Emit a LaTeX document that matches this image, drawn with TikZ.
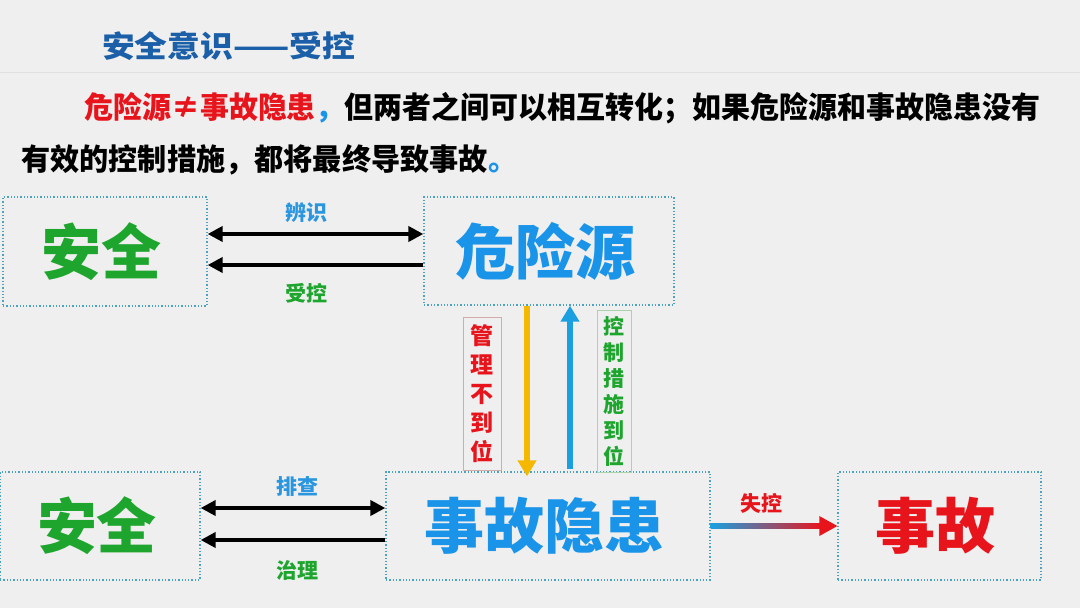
\documentclass[tikz,border=0pt]{standalone}
\usepackage{fontspec}
\usepackage{graphicx}
\newfontfamily\cjk{Noto Sans CJK SC}
\usetikzlibrary{arrows.meta,calc}
\definecolor{bg}{HTML}{EFEFEF}
\definecolor{titleblue}{HTML}{1A5FA8}
\definecolor{myred}{HTML}{E8141C}
\definecolor{mygreen}{HTML}{1EA52E}
\definecolor{myblue}{HTML}{1A94E8}
\definecolor{lblblue}{HTML}{2A96E0}
\definecolor{boxc}{HTML}{4BA3C0}
\definecolor{yel}{HTML}{F5B800}
\definecolor{upblue}{HTML}{1AA0E0}
\definecolor{midc}{HTML}{4A4A8A}
\tikzset{
  box/.style={draw=boxc, dotted, line width=1.3pt, inner sep=0pt},
  big/.style={font=\cjk\bfseries\fontsize{60}{64}\selectfont},
  lbl/.style={font=\cjk\bfseries\fontsize{21}{24}\selectfont},
  vlbl/.style={draw, line width=0.6pt, align=center, inner sep=0pt,
    font=\cjk\bfseries\fontsize{23}{29}\selectfont},
  dbl/.style={line width=4pt, {Triangle[length=15pt,width=15pt]}-{Triangle[length=15pt,width=15pt]}},
  sgl/.style={line width=4pt, {Triangle[length=15pt,width=15pt]}-},
  para/.style={anchor=west, inner sep=0pt, font=\cjk\bfseries\fontsize{30}{34}\selectfont}
}
\begin{document}
\begin{tikzpicture}[x=1pt,y=-1pt]
\fill[bg] (0,0) rectangle (1080,608);
\useasboundingbox (0,0) rectangle (1080,608);
\draw[black!12, line width=1pt] (0,72) -- (1080,72);
\node[anchor=west, text=titleblue, font=\cjk\bfseries\fontsize{30}{32}\selectfont, inner sep=0pt] (title) at (102,46) {\resizebox{253pt}{\height}{安全意识——受控}};
\node[para] (p1) at (84,108) {\resizebox{956pt}{\height}{\textcolor{myred}{危险源≠事故隐患}\textcolor{myblue}{，}但两者之间可以相互转化；如果危险源和事故隐患没有}};
\node[para] (p2) at (21,160) {\resizebox{496pt}{\height}{有效的控制措施，都将最终导致事故\textcolor{myblue}{。}}};

\node[box, minimum width=204pt, minimum height=109pt, big, text=mygreen] (A) at (105,251.5) {\hspace*{-6pt}安全};
\node[box, minimum width=250pt, minimum height=108pt, big, text=myblue] (B) at (549,251) {\hspace*{-8pt}危险源};
\node[box, minimum width=200pt, minimum height=108pt, big, text=mygreen] (C) at (100,526) {\hspace*{-6pt}安全};
\node[box, minimum width=324pt, minimum height=108pt, big, text=myblue] (D) at (548,526) {\hspace*{-8pt}事故隐患};
\node[box, minimum width=203pt, minimum height=108pt, big, text=myred] (E) at (939.5,526) {\hspace*{-8pt}事故};

\draw[dbl] ($(A.east)+(0,-17.5)$) -- ($(B.west)+(0,-17)$);
\draw[sgl] ($(A.east)+(0,13.5)$) -- ($(B.west)+(0,14)$);
\node[lbl, text=lblblue] (l1) at (306,213) {辨识};
\node[lbl, text=mygreen] (l2) at (306,293) {受控};

\draw[dbl] ($(C.east)+(0,-18)$) -- ($(D.west)+(0,-18)$);
\draw[sgl] ($(C.east)+(0,14)$) -- ($(D.west)+(0,14)$);
\node[lbl, text=lblblue] (l3) at (297,487) {排查};
\node[lbl, text=mygreen] (l4) at (297,570) {治理};

\coordinate (y1) at ($(B.south)+(-22,0)$);
\draw[yel, line width=6pt, -{Triangle[length=16pt,width=18pt]}] (y1) -- ($(y1 |- D.north)+(0,5)$);
\coordinate (b1) at ($(D.north)+(22,-2)$);
\draw[upblue, line width=6pt, -{Triangle[length=16pt,width=18pt]}] (b1) -- (b1 |- B.south);

\node[vlbl, draw=red!30!gray!50, text=myred, minimum width=38pt, minimum height=153pt] (m1) at (482,393.5) {管\\理\\不\\到\\位};
\node[vlbl, draw=green!30!gray!50, text=mygreen, minimum width=34pt, minimum height=162pt, font=\cjk\bfseries\fontsize{21}{26}\selectfont] (m2) at (614,391) {控\\制\\措\\施\\到\\位};

\node[lbl, text=myred] (l5) at (761,503) {失控};
\shade[left color=upblue, middle color=midc, right color=myred] ($(D.east)+(0,-2.5)$) rectangle ($(E.west)+(-16,2.5)$);
\fill[myred] ($(E.west)+(-18,-10)$) -- (E.west) -- ($(E.west)+(-18,10)$) -- cycle;
\end{tikzpicture}
\end{document}
